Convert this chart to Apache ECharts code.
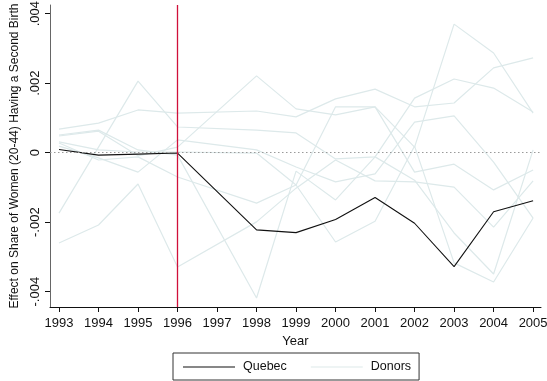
<!DOCTYPE html>
<html>
<head>
<meta charset="utf-8">
<script src="https://cdn.jsdelivr.net/npm/echarts@6/dist/echarts.min.js"></script>
<style>
  html, body { margin: 0; padding: 0; background: #fff; }
  #chart { width: 547px; height: 381px; }
</style>
</head>
<body>
<div id="chart"></div>
<script>
// Years observed (no 1997 observation in the panel)
const years = [1993, 1994, 1995, 1996, 1998, 1999, 2000, 2001, 2002, 2003, 2004, 2005];
const yearTicks = [1993, 1994, 1995, 1996, 1997, 1998, 1999, 2000, 2001, 2002, 2003, 2004, 2005];
const effectTicks = [-0.004, -0.002, 0, 0.002, 0.004];
const effectTickLabels = ['-.004', '-.002', '0', '.002', '.004'];
const treatmentYear = 1996;

// Estimated effect for the treated province
const quebec = [0.00009, -0.00007, -0.00004, -0.00001, -0.00222, -0.00230, -0.00192, -0.00129, -0.00203, -0.00328, -0.00170, -0.00138];

// Placebo estimates for donor provinces
const donor1 = [0.00068, 0.00085, 0.00123, 0.00114, 0.00120, 0.00103, 0.00155, 0.00183, 0.00132, 0.00143, 0.00244, 0.00273];
const donor2 = [0.00048, 0.00062, -0.00009, 0.00016, 0.00221, 0.00126, 0.00109, 0.00132, 0.00016, 0.00370, 0.00287, 0.00114];
const donor3 = [-0.00174, 0.00016, 0.00206, 0.00074, 0.00065, 0.00057, -0.00018, -0.00012, 0.00157, 0.00212, 0.00186, 0.00117];
const donor4 = [0.00019, -0.00015, -0.00056, 0.00037, 0.00008, -0.00041, -0.00084, -0.00061, 0.00088, 0.00106, -0.00027, -0.00188];
const donor5 = [0.00028, -0.00021, -0.00012, -0.00070, -0.00145, -0.00093, 0.00132, 0.00132, -0.00056, -0.00033, -0.00107, -0.00050];
const donor6 = [-0.00260, -0.00208, -0.00090, -0.00329, -0.00199, -0.00102, -0.00021, -0.00081, -0.00084, -0.00099, -0.00214, -0.00081];
const donor7 = [0.00051, 0.00065, 0.00008, -0.00007, -0.00418, -0.00053, -0.00136, -0.00012, -0.00079, -0.00231, -0.00349, 0.00008];
const donor8 = [0.00031, 0.00008, 0.00002, 0.00002, -0.00001, -0.00093, -0.00257, -0.00197, 0.00019, -0.00317, -0.00372, -0.00188];
const donors = [donor1, donor2, donor3, donor4, donor5, donor6, donor7, donor8];

const FONT = '"Liberation Sans", Arial, Helvetica, sans-serif';
const DONOR_COLOR = '#dde9ea';
const TREAT_COLOR = '#d0103a';

const pairs = vals => years.map((y, i) => [y, vals[i]]);

const chart = echarts.init(document.getElementById('chart'), null, { renderer: 'canvas' });

const series = [];

// Treatment-year marker, under the data
series.push({
  name: 'treatment',
  type: 'line',
  data: [],
  silent: true,
  z: 1,
  color: TREAT_COLOR,
  markLine: {
    silent: true,
    symbol: 'none',
    label: { show: false },
    animation: false,
    lineStyle: { color: TREAT_COLOR, width: 1.3, type: 'solid', opacity: 1 },
    emphasis: { disabled: true },
    data: [{ xAxis: treatmentYear }]
  }
});

// Zero reference, dotted
series.push({
  name: 'zero',
  type: 'line',
  data: [],
  silent: true,
  z: 1,
  color: '#9a9a9a',
  markLine: {
    silent: true,
    symbol: 'none',
    label: { show: false },
    animation: false,
    lineStyle: { color: '#9a9a9a', width: 1.2, type: [1.5, 2.5], opacity: 1 },
    emphasis: { disabled: true },
    data: [{ yAxis: 0 }]
  }
});

donors.forEach(d => {
  series.push({
    name: 'Donors',
    type: 'line',
    data: pairs(d),
    symbol: 'none',
    z: 2,
    lineStyle: { color: DONOR_COLOR, width: 1.2 },
    itemStyle: { color: DONOR_COLOR },
    animation: false
  });
});

series.push({
  name: 'Quebec',
  type: 'line',
  data: pairs(quebec),
  symbol: 'none',
  z: 3,
  lineStyle: { color: '#111', width: 1.1 },
  itemStyle: { color: '#111' },
  animation: false
});

chart.setOption({
  animation: false,
  backgroundColor: '#fff',
  grid: { left: 50, right: 6, top: 5, bottom: 74, containLabel: false, outerBoundsMode: 'none' },
  legend: {
    data: ['Quebec', 'Donors'],
    left: 173,
    top: 353,
    orient: 'horizontal',
    icon: 'rect',
    itemWidth: 52,
    itemHeight: 1,
    itemGap: 24,
    padding: [7, 8, 6, 10],
    borderColor: '#333',
    borderWidth: 1,
    selectedMode: false,
    textStyle: { fontFamily: FONT, fontSize: 12.5, color: '#111', padding: [0, 0, 0, 3], lineHeight: 14 }
  },
  xAxis: {
    type: 'value',
    min: 1992.772,
    max: 2005.2,
    name: 'Year',
    nameLocation: 'middle',
    nameGap: 22,
    nameTextStyle: { fontFamily: FONT, fontSize: 13, color: '#111' },
    splitLine: { show: false },
    axisLine: { show: true, onZero: false, lineStyle: { color: '#111', width: 1 } },
    axisTick: { show: true, length: 5, customValues: yearTicks, lineStyle: { color: '#111' } },
    axisLabel: {
      customValues: yearTicks,
      margin: 10,
      fontFamily: FONT,
      fontSize: 13,
      color: '#111',
      formatter: v => String(v)
    }
  },
  yAxis: {
    type: 'value',
    min: -0.00444,
    max: 0.00425,
    name: 'Effect on Share of Women (20-44) Having a Second Birth',
    nameLocation: 'middle',
    nameRotate: 90,
    nameGap: 20,
    nameTextStyle: { fontFamily: FONT, fontSize: 12, color: '#111' },
    splitLine: { show: false },
    axisLine: { show: true, lineStyle: { color: '#666', width: 1 } },
    axisTick: { show: true, length: 5, customValues: effectTicks, lineStyle: { color: '#111' } },
    axisLabel: {
      customValues: effectTicks,
      rotate: 90,
      margin: 8,
      fontFamily: FONT,
      fontSize: 13,
      color: '#111',
      formatter: v => {
        const i = effectTicks.findIndex(t => Math.abs(t - v) < 1e-9);
        return i >= 0 ? effectTickLabels[i] : '';
      }
    }
  },
  series: series
});
</script>
</body>
</html>
